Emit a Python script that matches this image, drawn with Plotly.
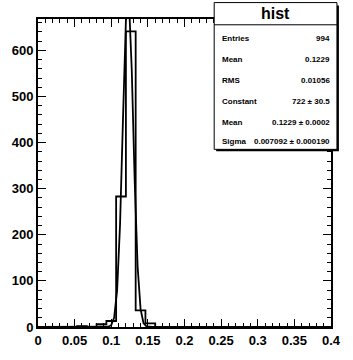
import numpy as np
import plotly.graph_objects as go

# ---- data ----
x_min, x_max, n_bins = 0.0, 0.4, 30
counts = [0, 0, 0, 0, 2, 0, 6, 13, 283, 641, 36, 8, 0, 0, 0,
          0, 0, 0, 0, 0, 0, 0, 0, 0, 0, 0, 0, 0, 0, 0]
fit_constant, fit_mean, fit_sigma = 722.0, 0.1229, 0.007092
stat_labels = ["Entries", "Mean", "RMS", "Constant", "Mean", "Sigma"]
stat_values = ["994", "0.1229", "0.01056", "722 \u00b1 30.5",
               "0.1229 \u00b1 0.0002", "0.007092 \u00b1 0.000190"]
hist_name = "hist"
x_ticks = [0, 0.05, 0.1, 0.15, 0.2, 0.25, 0.3, 0.35, 0.4]
x_ticklabels = ["0", "0.05", "0.1", "0.15", "0.2", "0.25", "0.3", "0.35", "0.4"]
y_ticks = [0, 100, 200, 300, 400, 500, 600]
y_max = 668

# ---- geometry ----
W, H = 353, 360
L, R, T, B = 37, 20, 19, 22
pw, ph = W - L - R, H - T - B

def px(x):
    return (x - L) / pw

def py(y):
    return (H - B - y) / ph

edges = np.linspace(x_min, x_max, n_bins + 1)
step_x = list(edges[:-1]) + [edges[-1]]
step_y = list(counts) + [counts[-1]]

fx = np.linspace(x_min, x_max, 101)
fy = fit_constant * np.exp(-0.5 * ((fx - fit_mean) / fit_sigma) ** 2)

fig = go.Figure()
fig.add_trace(go.Scatter(x=step_x, y=step_y, mode="lines", line_shape="hv",
                         line=dict(color="black", width=1.8), hoverinfo="skip"))
fig.add_trace(go.Scatter(x=fx, y=fy, mode="lines",
                         line=dict(color="black", width=1.8), hoverinfo="skip"))

tickfont = dict(family="Liberation Sans", size=13, color="black", weight="bold")
fig.update_layout(
    width=W, height=H, margin=dict(l=L, r=R, t=T, b=B),
    paper_bgcolor="white", plot_bgcolor="white", showlegend=False,
    xaxis=dict(range=[x_min, x_max], tickvals=x_ticks, ticktext=x_ticklabels,
               ticks="inside", ticklen=8, tickwidth=1, tickcolor="black",
               showline=True, linecolor="black", linewidth=1.8, mirror="allticks",
               showgrid=False, zeroline=False, tickfont=tickfont,
               minor=dict(dtick=0.01, ticks="inside", ticklen=4, tickcolor="black",
                          tickwidth=1, showgrid=False)),
    yaxis=dict(range=[0, y_max], tickvals=y_ticks,
               ticks="inside", ticklen=8, tickwidth=1, tickcolor="black",
               showline=True, linecolor="black", linewidth=1.8, mirror="allticks",
               showgrid=False, zeroline=False, tickfont=tickfont,
               ticklabelstandoff=0,
               minor=dict(dtick=20, ticks="inside", ticklen=4, tickcolor="black",
                          tickwidth=1, showgrid=False)),
)

# stats box
bx0, bx1, by0, by1 = 215, 339, 2, 154
fig.add_shape(type="rect", xref="paper", yref="paper",
              x0=px(bx0 + 2), x1=px(bx1 + 2), y0=py(by1 + 2), y1=py(by0 + 3),
              fillcolor="black", line=dict(width=0), layer="above")
fig.add_shape(type="rect", xref="paper", yref="paper",
              x0=px(bx0), x1=px(bx1), y0=py(by1), y1=py(by0),
              fillcolor="white", line=dict(color="black", width=1), layer="above")
fig.add_shape(type="line", xref="paper", yref="paper",
              x0=px(bx0), x1=px(bx1), y0=py(25), y1=py(25),
              line=dict(color="black", width=1), layer="above")
fig.add_annotation(x=px((bx0 + bx1) / 2), y=py(13.5), xref="paper", yref="paper",
                   text=hist_name, showarrow=False, xanchor="center", yanchor="middle",
                   font=dict(family="Liberation Sans", size=16, color="black", weight="bold"))
row_y = [39.3, 61, 82.3, 104.3, 126, 145.7]
sfont = dict(family="Liberation Sans", size=8, color="black", weight="bold")
for lab, val, ry in zip(stat_labels, stat_values, row_y):
    fig.add_annotation(x=px(221), y=py(ry), xref="paper", yref="paper", text=lab,
                       showarrow=False, xanchor="left", yanchor="middle", font=sfont)
    fig.add_annotation(x=px(334), y=py(ry), xref="paper", yref="paper", text=val,
                       showarrow=False, xanchor="right", yanchor="middle", font=sfont)

fig.write_html("out.html")
